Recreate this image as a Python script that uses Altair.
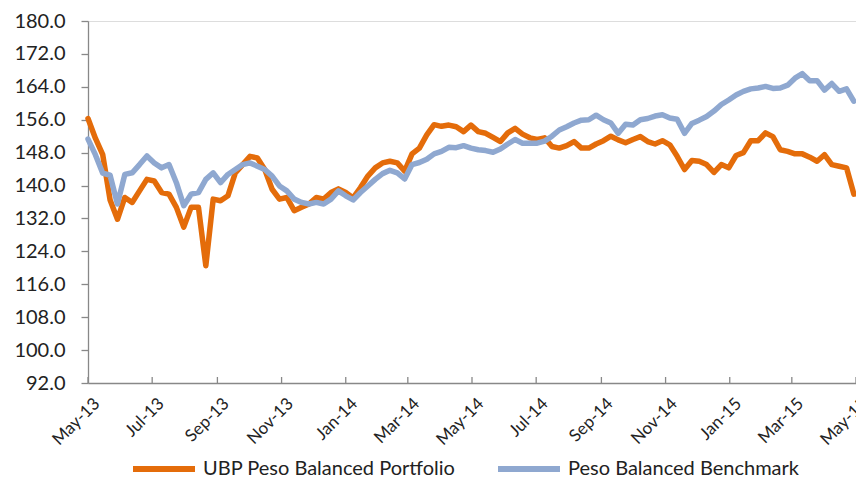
import altair as alt
import pandas as pd

start_date = "2013-05-01"
step = "7D"

portfolio = [
    156.3, 151.5, 147.5, 136.5, 131.8, 137.1, 135.9, 138.7, 141.5, 141.1,
    138.3, 137.9, 134.7, 129.9, 134.7, 134.7, 120.5, 136.7, 136.3, 137.5,
    143.1, 145.1, 147.1, 146.7, 143.9, 139.1, 136.7, 137.1, 133.9, 134.7,
    135.5, 137.1, 136.7, 138.3, 139.2, 138.3, 137.0, 139.5, 142.3, 144.3,
    145.5, 145.9, 145.5, 143.5, 147.7, 149.1, 152.3, 154.8, 154.4, 154.7,
    154.3, 153.1, 154.7, 153.1, 152.7, 151.7, 150.7, 152.8, 153.9, 152.5,
    151.6, 151.2, 151.6, 149.5, 149.1, 149.7, 150.7, 149.1, 149.1, 150.1,
    150.9, 152.0, 151.1, 150.4, 151.2, 151.9, 150.7, 150.1, 150.9, 149.9,
    147.1, 143.9, 146.1, 145.9, 145.1, 143.2, 145.1, 144.3, 147.3, 148.0,
    150.9, 150.9, 152.8, 151.9, 148.7, 148.3, 147.7, 147.7, 146.9, 145.9,
    147.5, 145.1, 144.7, 144.3, 137.9,
]

benchmark = [
    151.3, 147.5, 143.0, 142.5, 135.5, 142.7, 143.1, 145.1, 147.2, 145.5,
    144.3, 145.1, 140.7, 135.1, 137.9, 138.3, 141.5, 143.1, 140.7, 142.7,
    143.9, 145.1, 145.5, 144.7, 143.9, 142.3, 139.9, 138.7, 136.7, 135.9,
    135.5, 135.9, 135.5, 136.7, 138.7, 137.5, 136.5, 138.3, 139.9, 141.5,
    142.9, 143.7, 143.1, 141.6, 145.1, 145.6, 146.4, 147.7, 148.3, 149.3,
    149.2, 149.7, 149.1, 148.7, 148.5, 148.1, 148.9, 150.1, 151.2, 150.3,
    150.3, 150.3, 150.8, 152.0, 153.5, 154.3, 155.2, 155.9, 156.0, 157.1,
    156.0, 155.2, 152.7, 154.9, 154.7, 156.0, 156.3, 156.9, 157.2, 156.4,
    156.1, 152.7, 155.1, 155.9, 156.8, 158.1, 159.7, 160.8, 162.0, 162.9,
    163.5, 163.7, 164.1, 163.6, 163.7, 164.4, 166.1, 167.2, 165.5, 165.5,
    163.2, 164.8, 162.9, 163.5, 160.5,
]

series_names = ["UBP Peso Balanced Portfolio", "Peso Balanced Benchmark"]
series_colors = ["#E46C0A", "#8FA8D0"]

tick_dates = [
    "2013-05-01", "2013-07-01", "2013-09-01", "2013-11-01", "2014-01-01",
    "2014-03-01", "2014-05-01", "2014-07-01", "2014-09-01", "2014-11-01",
    "2015-01-01", "2015-03-01", "2015-05-01",
]
y_ticks = [92, 100, 108, 116, 124, 132, 140, 148, 156, 164, 172, 180]

dates = pd.date_range(start=start_date, periods=len(portfolio), freq=step)
df_p = pd.DataFrame({"date": dates, "value": portfolio, "series": series_names[0]})
df_b = pd.DataFrame({"date": dates, "value": benchmark, "series": series_names[1]})
df_t = pd.DataFrame({"date": pd.to_datetime(tick_dates)})

W, H = 768, 362
FONT = "Lato"

x_enc = alt.X(
    "date:T",
    scale=alt.Scale(domain=[tick_dates[0], tick_dates[-1]]),
    axis=alt.Axis(
        values=tick_dates, format="%b-%y", labelAngle=-45, ticks=False,
        labelPadding=12, labelOffset=3, title=None, grid=False,
        labelFontSize=17, labelFont=FONT, labelColor="#222222",
        domainColor="#888888", domainWidth=1.3,
    ),
)
y_enc = alt.Y(
    "value:Q",
    scale=alt.Scale(domain=[92, 180], nice=False, zero=False),
    axis=alt.Axis(
        values=y_ticks, format=".1f", title=None, grid=False,
        tickSize=7, tickColor="#888888", tickWidth=1.3,
        labelPadding=16, labelFontSize=20, labelFont=FONT, labelColor="#222222",
        domainColor="#888888", domainWidth=1.3,
    ),
)
color_enc = alt.Color(
    "series:N",
    scale=alt.Scale(domain=series_names, range=series_colors),
    legend=alt.Legend(
        title=None, orient="none", legendX=42, legendY=414, direction="horizontal",
        symbolType="stroke", symbolSize=3844, symbolStrokeWidth=6,
        labelFontSize=20, labelFont=FONT, labelColor="#222222", labelLimit=0,
        labelOffset=5, columnPadding=30, padding=0,
    ),
)

line_p = alt.Chart(df_p).mark_line(strokeWidth=5.5, strokeJoin="round", strokeCap="round").encode(
    x=x_enc, y=y_enc, color=color_enc
)
line_b = alt.Chart(df_b).mark_line(strokeWidth=5.5, strokeJoin="round", strokeCap="round").encode(
    x=x_enc, y=y_enc, color=color_enc
)
ticks = alt.Chart(df_t).mark_rule(color="#888888", strokeWidth=1.3).encode(
    x=alt.X("date:T"), y=alt.value(H), y2=alt.value(H - 6)
)

chart = alt.layer(line_p, line_b, ticks).properties(
    width=W, height=H,
    autosize=alt.AutoSizeParams(type="none"),
    padding={"left": 80, "top": 13, "right": 0, "bottom": 98},
).configure_view(stroke=None).configure(background="white")

chart.save("out.html", embed_options={"renderer": "svg", "actions": False})
